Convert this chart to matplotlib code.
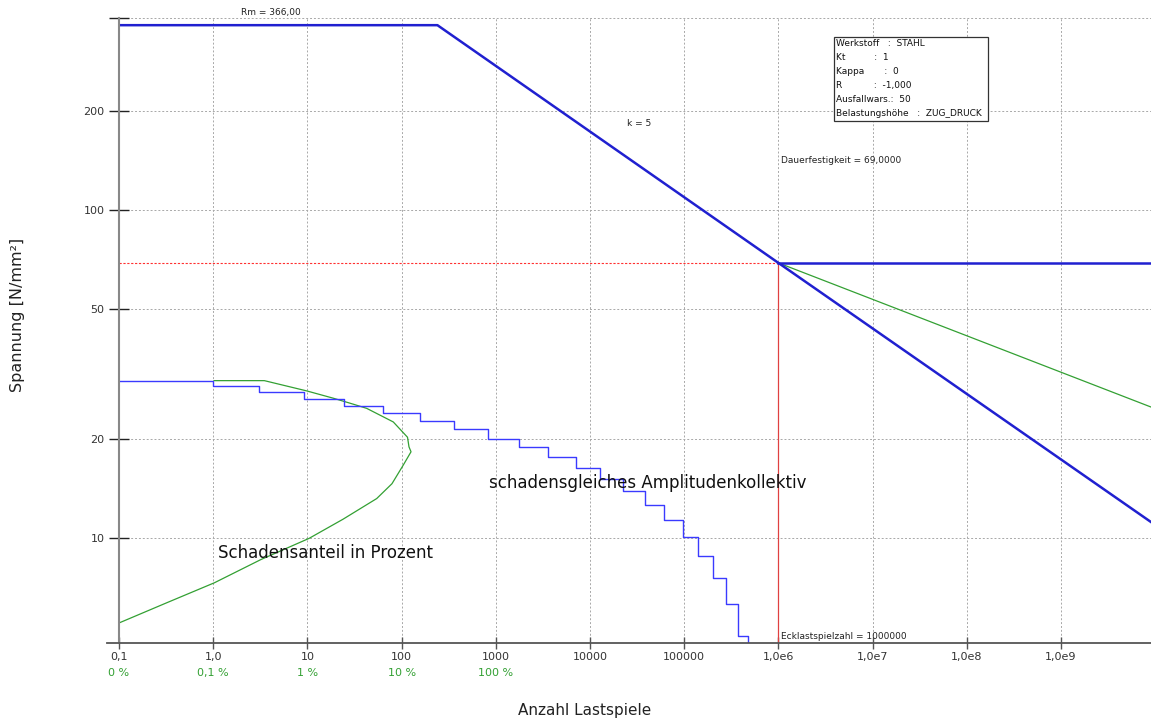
import numpy as np
import matplotlib.pyplot as plt
from matplotlib.patches import Rectangle
from matplotlib.ticker import FixedLocator, NullLocator

# Woehlerlinie (S-N curve)
sn_N = [0.1, 240, 1e6, 9e9]
sn_S = [366, 366, 69, 11.2]
# Dauerfestigkeit horizontal
df_N = [1e6, 9e9]
df_S = [69, 69]
# Haibach extension (green)
hb_N = [1e6, 9e9]
hb_S = [69, 25.1]

# schadensgleiches Amplitudenkollektiv (step ends, levels)
step_N = [0.1, 1.0, 3.06, 9.2, 24.5, 63.5, 157, 360, 826, 1763, 3580, 7100,
          12770, 22400, 38400, 61100, 97000, 140000, 202000, 278000, 372000, 476000]
step_S = [30.2, 29.1, 27.8, 26.5, 25.3, 24.0, 22.7, 21.5, 20.1, 18.9, 17.7,
          16.4, 15.1, 13.9, 12.6, 11.35, 10.05, 8.81, 7.55, 6.30, 5.04, 4.79]

# Schadensanteil in Prozent (green curve)
dmg_N = [0.1026, 0.32, 1.03, 3.2, 10.4, 23.9, 54.4, 79, 104.2, 125.9, 119.8, 115.5, 81.6,
         42.6, 30.7, 18.8, 9.84, 3.49, 1.02]
dmg_S = [5.53, 6.35, 7.31, 8.6, 9.98, 11.42, 13.2, 14.65, 16.7, 18.33, 18.97, 20.3, 22.6,
         24.86, 25.6, 26.7, 28.1, 30.2, 30.2]

x_ticks = [0.1, 1, 10, 100, 1000, 1e4, 1e5, 1e6, 1e7, 1e8, 1e9]
x_labels = ['0,1', '1,0', '10', '100', '1000', '10000', '100000', '1,0e6', '1,0e7', '1,0e8', '1,0e9']
pct_ticks = [0.1, 1, 10, 100, 1000]
pct_labels = ['0 %', '0,1 %', '1 %', '10 %', '100 %']
y_ticks = [10, 20, 50, 100, 200]

info = ['Werkstoff   :  STAHL', 'Kt          :  1', 'Kappa       :  0',
        'R           :  -1,000', 'Ausfallwars.:  50', 'Belastungshöhe   :  ZUG_DRUCK']

W, H = 1151, 720
fig = plt.figure(figsize=(W / 100, H / 100), dpi=100)
ax = fig.add_axes([119 / W, (H - 643) / H, 1 - 119 / W, (643 - 18) / H])
ax.set_xscale('log')
ax.set_yscale('log')
ymin, ymax = 4.79, 384.9
ax.set_xlim(0.1, 9.02e9)
ax.set_ylim(ymin, ymax)

ax.xaxis.set_major_locator(FixedLocator(x_ticks))
ax.set_xticklabels(x_labels)
ax.xaxis.set_minor_locator(NullLocator())
ax.yaxis.set_major_locator(FixedLocator(y_ticks + [ymax]))
ax.set_yticklabels([str(v) for v in y_ticks] + [''])
ax.yaxis.set_minor_locator(NullLocator())
ax.tick_params(axis='x', direction='inout', length=9, width=1, color='#555555',
               labelsize=8, labelcolor='#333333', pad=2)
ax.tick_params(axis='y', direction='inout', length=15, width=1, color='#222222',
               labelsize=8, labelcolor='#333333', pad=3)
ax.grid(True, ls=(0, (2, 2)), color='#a8a8a8', lw=0.7)

for s in ['top', 'right']:
    ax.spines[s].set_visible(False)
ax.spines['left'].set_color('#888888')
ax.spines['left'].set_linewidth(1.5)
ax.spines['bottom'].set_color('#555555')
ax.spines['bottom'].set_linewidth(1.3)
ax.plot([-0.012, 0], [0, 0], transform=ax.transAxes, color='#555555', lw=1.3, clip_on=False)

# reference lines
ax.plot([0.1, 1e6], [69, 69], color='#ff3030', lw=0.8, ls=(0, (2, 1.5)))
ax.plot([1e6, 1e6], [ymin, 69], color='#e04040', lw=0.9)

# curves
ax.plot(dmg_N, dmg_S, color='#33a033', lw=0.9)
ax.plot(step_N, step_S, drawstyle='steps-post', color='#3a3aff', lw=1.0)
ax.plot(hb_N, hb_S, color='#33a033', lw=0.9)
ax.plot(df_N, df_S, color='#2020d0', lw=1.8)
ax.plot(sn_N, sn_S, color='#2020d0', lw=1.8)

# percent labels under x axis
for t, lab in zip(pct_ticks, pct_labels):
    ax.text(t, -0.048, lab, transform=ax.get_xaxis_transform(), ha='center', va='center',
            fontsize=8, color='#33a033')

# annotations
ax.text(24700, 183, 'k = 5', fontsize=6.5, color='#222222', va='center')
ax.text(1.07e6, 142, 'Dauerfestigkeit = 69,0000', fontsize=6.5, color='#222222', va='center')
ax.text(1.07e6, 5.0, 'Ecklastspielzahl = 1000000', fontsize=6.5, color='#222222', va='center')
ax.text(847, 14.7, 'schadensgleiches Amplitudenkollektiv', fontsize=12, color='#111111', va='center')
ax.text(1.12, 9.0, 'Schadensanteil in Prozent', fontsize=12, color='#111111', va='center')
fig.text(271 / W, 1 - 12 / H, 'Rm = 366,00', fontsize=6.5, color='#222222', ha='center', va='center')

# info box
fig.patches.append(Rectangle((834 / W, 1 - 121 / H), 154 / W, 84 / H, transform=fig.transFigure,
                             fill=True, facecolor='white', edgecolor='#333333', lw=0.9))
for i, line in enumerate(info):
    fig.text(836 / W, 1 - (43 + 14.2 * i) / H, line, fontsize=6.5, color='#111111', va='center')

fig.text(18 / W, 1 - 315 / H, 'Spannung [N/mm²]', rotation=90, fontsize=11.5, ha='center', va='center',
         color='#222222')
fig.text(585 / W, 1 - 710 / H, 'Anzahl Lastspiele', fontsize=11, ha='center', va='center', color='#222222')

fig.savefig('out.png', dpi=100)
